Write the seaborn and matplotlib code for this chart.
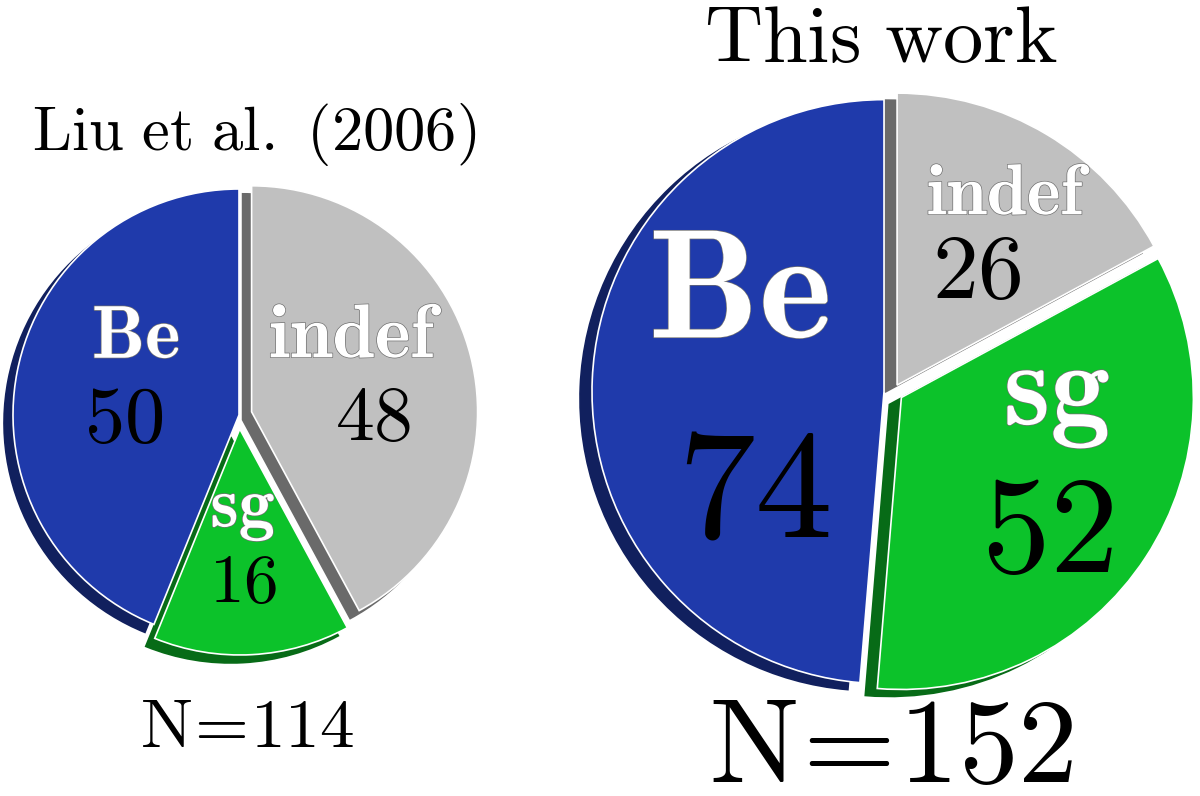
import matplotlib
matplotlib.use("Agg")
import matplotlib.pyplot as plt
import matplotlib.patheffects as pe
import seaborn as sns

# ======== DATA ========
categories = ["Be", "sg", "indef"]
liu_counts = [50, 16, 48]      # Liu et al. (2006)
this_counts = [74, 52, 26]     # This work
panel_titles = ["Liu et al. (2006)", "This work"]

# ======== STYLE ========
sns.set_theme(style="white")
plt.rcParams["mathtext.fontset"] = "cm"
plt.rcParams["font.family"] = ["DejaVu Serif"]
plt.rcParams["text.color"] = "black"

colors = ["#1f3aab", "#0cc22a", "#c0c0c0"]
W, H = 1200, 796

fig = plt.figure(figsize=(W / 100, H / 100), dpi=100)
ax = fig.add_axes([0, 0, 1, 1])


def Y(y_px):
    # pixel rows are measured from the top, the axes counts from the bottom
    return H - y_px


def mt(s, bold=False):
    # tex-like text; pull the "=" in a bit, mathtext spaces it wider than latex
    s = s.replace(" ", r"\ ").replace("=", r"\!=\!")
    return (r"$\mathbf{%s}$" if bold else r"$\mathrm{%s}$") % s


# ======== PIES ========
# center, radius, explode, shadow offset (px) for each panel
pies = [
    dict(counts=liu_counts, center=(239, 415), radius=226,
         explode=[0, 14, 13], shadow=(-9, -8)),
    dict(counts=this_counts, center=(893, 392), radius=292,
         explode=[9, 10, 8], shadow=(-12, -7)),
]

for p in pies:
    cx, cy = p["center"]
    ax.pie(p["counts"], colors=colors, startangle=90, counterclock=True,
           center=(cx, Y(cy)), radius=p["radius"], explode=p["explode"],
           wedgeprops=dict(edgecolor="white", linewidth=1.2),
           shadow=dict(ox=p["shadow"][0] * 0.72, oy=p["shadow"][1] * 0.72,
                       shade=0.45, alpha=1))

# ======== LABELS ========
outline = [pe.Stroke(linewidth=1.0, foreground="#707070"), pe.Normal()]

# (x, baseline) in px for the names and the counts, plus font sizes
liu_name_pos = [(136, 358), (243, 527), (356, 358)]
liu_num_pos = [(124, 442), (243, 602), (373, 440)]
liu_name_size = [54, 52, 55]
liu_num_size = [58, 50, 56]

this_name_pos = [(739, 338), (1057, 425), (1009, 215)]
this_num_pos = [(754, 536), (1047, 572), (977, 298)]
this_name_size = [112, 86, 52]
this_num_size = [112, 99, 66]

for counts, npos, vpos, nsz, vsz in [
    (liu_counts, liu_name_pos, liu_num_pos, liu_name_size, liu_num_size),
    (this_counts, this_name_pos, this_num_pos, this_name_size, this_num_size),
]:
    for cat, c, (nx, ny), (vx, vy), s1, s2 in zip(categories, counts, npos, vpos, nsz, vsz):
        ax.text(nx, Y(ny), mt(cat, bold=True), color="white", fontsize=s1,
                ha="center", va="baseline", path_effects=outline, zorder=5)
        ax.text(vx, Y(vy), mt(str(c)), color="black", fontsize=s2,
                ha="center", va="baseline", zorder=5)

# titles and totals
ax.text(254, Y(150), mt(panel_titles[0]), fontsize=45, ha="center", va="baseline")
ax.text(881, Y(62), mt(panel_titles[1]), fontsize=58, ha="center", va="baseline")
ax.text(247, Y(747), mt("N=%d" % sum(liu_counts)), fontsize=50, ha="center", va="baseline")
ax.text(891, Y(782), mt("N=%d" % sum(this_counts)), fontsize=86, ha="center", va="baseline")

ax.set_xlim(0, W)
ax.set_ylim(0, H)
ax.set_aspect("equal")
ax.axis("off")

fig.savefig("out.png", dpi=100, facecolor="white")
